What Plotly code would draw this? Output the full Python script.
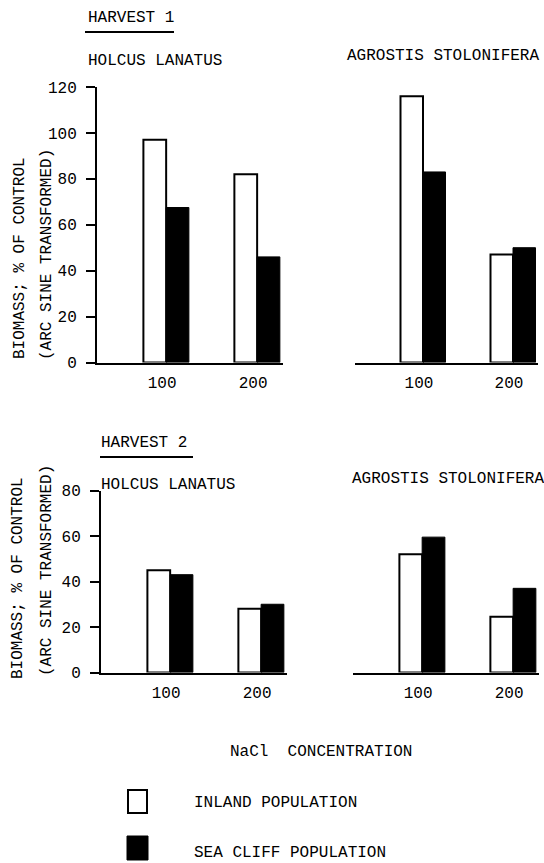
import plotly.graph_objects as go

W, H = 544, 863

# ---- data ----
concentrations = [100, 200]
tick_labels = ["100", "200"]
holcus_h1_inland = [97, 82]
holcus_h1_seacliff = [67.5, 46]
agrostis_h1_inland = [116, 47]
agrostis_h1_seacliff = [83, 50]
holcus_h2_inland = [45, 28]
holcus_h2_seacliff = [43, 30]
agrostis_h2_inland = [52, 24.5]
agrostis_h2_seacliff = [59.5, 37]

FONT = "Liberation Mono, Courier New, monospace"
FS = 16
BAR_W = 25
XRANGE = [24, 228]


def fx(px):
    return px / W


def fy(py):
    return 1 - py / H


# panel definitions: (inland, seacliff, idx, x0px, x1px, y0px(bottom), y1px(top), ymax, show_y)
panels = [
    (holcus_h1_inland, holcus_h1_seacliff, 1, 97, 282.6, 362.5, 87, 120, True),
    (agrostis_h1_inland, agrostis_h1_seacliff, 2, 354.6, 538.2, 362.5, 87, 120, False),
    (holcus_h2_inland, holcus_h2_seacliff, 3, 101, 286.6, 672.5, 490.5, 80, True),
    (agrostis_h2_inland, agrostis_h2_seacliff, 4, 353, 538.6, 672.5, 490.5, 80, False),
]

fig = go.Figure()
layout = dict(
    template="none",
    width=W, height=H, autosize=False,
    margin=dict(l=0, r=0, t=0, b=0, pad=0, autoexpand=False),
    paper_bgcolor="white", plot_bgcolor="white",
    showlegend=False, barmode="overlay",
    font=dict(family=FONT, size=FS, color="black"),
)

for inland, sea, i, x0, x1, yb, yt, ymax, show_y in panels:
    s = "" if i == 1 else str(i)
    fig.add_trace(go.Bar(
        x=concentrations, y=inland, width=BAR_W, offset=-BAR_W,
        marker=dict(color="white", line=dict(color="black", width=2)),
        xaxis="x" + s, yaxis="y" + s, name="INLAND POPULATION"))
    fig.add_trace(go.Bar(
        x=concentrations, y=sea, width=BAR_W, offset=0,
        marker=dict(color="black", line=dict(color="black", width=1)),
        xaxis="x" + s, yaxis="y" + s, name="SEA CLIFF POPULATION"))
    layout["xaxis" + s] = dict(
        domain=[fx(x0), fx(x1)], range=XRANGE, anchor="y" + s,
        tickvals=concentrations, ticktext=tick_labels, automargin=False,
        ticks="", showline=True, linewidth=2, linecolor="black",
        showgrid=False, zeroline=False, ticklabelstandoff=4,
        ticklabelshift=-4,
        tickfont=dict(family=FONT, size=FS, color="black"),
    )
    yax = dict(
        domain=[fy(yb), fy(yt)], range=[0, ymax], anchor="x" + s,
        showgrid=False, zeroline=False, automargin=False,
    )
    if show_y:
        yax.update(
            tickvals=list(range(0, ymax + 1, 20)),
            ticks="outside", ticklen=9, tickwidth=2, tickcolor="black",
            showline=True, linewidth=2, linecolor="black",
            ticklabelstandoff=6,
            tickfont=dict(family=FONT, size=FS, color="black"),
        )
    else:
        yax.update(showline=False, showticklabels=False, ticks="")
    layout["yaxis" + s] = yax

fig.update_layout(**layout)

annotations = []
shapes = []


def text(t, xpx, ypx, xanchor="left", angle=0):
    annotations.append(dict(
        text=t, x=fx(xpx), y=fy(ypx), xref="paper", yref="paper",
        xanchor=xanchor, yanchor="middle", showarrow=False, textangle=angle,
        font=dict(family=FONT, size=FS, color="black")))


text("HARVEST 1", 86, 18)
shapes.append(dict(type="line", xref="paper", yref="paper",
                   x0=fx(85), x1=fx(174), y0=fy(32), y1=fy(32),
                   line=dict(color="black", width=2)))
text("HOLCUS LANATUS", 86, 61)
text("AGROSTIS STOLONIFERA", 345, 56)

text("HARVEST 2", 99, 443)
shapes.append(dict(type="line", xref="paper", yref="paper",
                   x0=fx(100), x1=fx(193), y0=fy(457), y1=fy(457),
                   line=dict(color="black", width=2)))
text("HOLCUS LANATUS", 99, 485)
text("AGROSTIS STOLONIFERA", 350, 479)

text("BIOMASS; % OF CONTROL", 20, 258, xanchor="center", angle=-90)
text("(ARC SINE TRANSFORMED)", 47, 255, xanchor="center", angle=-90)
text("BIOMASS; % OF CONTROL", 18, 578, xanchor="center", angle=-90)
text("(ARC SINE TRANSFORMED)", 47, 571, xanchor="center", angle=-90)

text("NaCl  CONCENTRATION", 228, 752)

# legend
shapes.append(dict(type="rect", xref="paper", yref="paper",
                   x0=fx(128), x1=fx(147), y0=fy(790), y1=fy(813),
                   line=dict(color="black", width=2), fillcolor="white"))
shapes.append(dict(type="rect", xref="paper", yref="paper",
                   x0=fx(127), x1=fx(148), y0=fy(836), y1=fy(860),
                   line=dict(color="black", width=1), fillcolor="black"))
text("INLAND POPULATION", 192, 803)
text("SEA CLIFF POPULATION", 192, 853)

fig.update_layout(annotations=annotations, shapes=shapes)
fig.write_html(
    "out.html",
    config={"displayModeBar": False, "responsive": False},
    post_script="document.body.style.margin='0';document.body.style.overflow='hidden';",
)
